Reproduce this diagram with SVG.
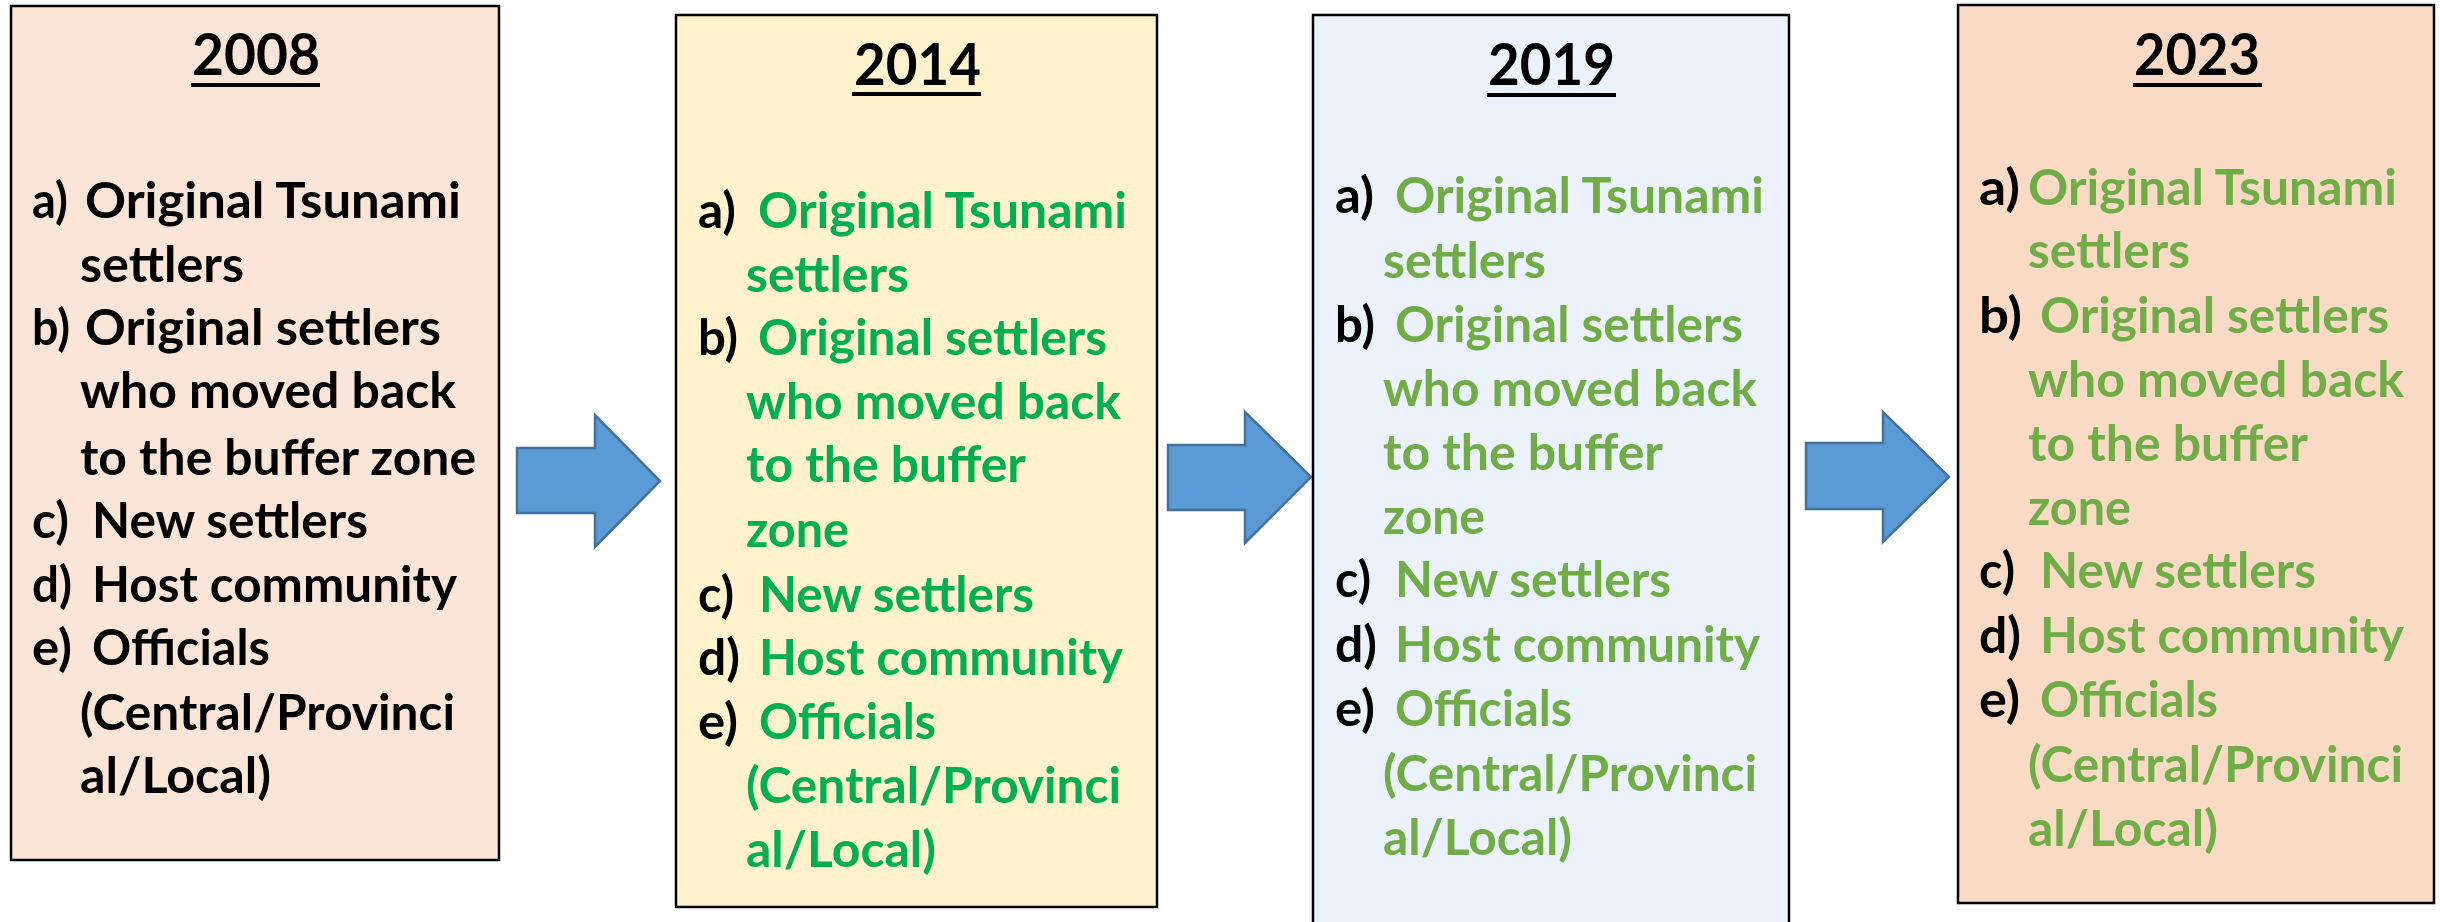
<svg xmlns="http://www.w3.org/2000/svg" width="2440" height="922" viewBox="0 0 2440 922">
<style>
text{font-family:Lato,"Liberation Sans",sans-serif;font-weight:700;font-size:50px}
.yr{font-size:58px;fill:#000}
.lb{fill:#000}
.k{fill:#000}
.g1{fill:#00B050}
.g2{fill:#70AD47}
.box{stroke:#000;stroke-width:2.5}
.ul{fill:#000}
.arrow{fill:#5B9BD5;stroke:#41719C;stroke-width:2.5;stroke-linejoin:miter}
</style>
<rect width="2440" height="922" fill="#fff"/>
<g id="connectors">
<path class="arrow" d="M517,448 H595 V415 L660,481 L595,547 V513 H517 Z"/>
<path class="arrow" d="M1168,445 H1245 V412 L1311,477 L1245,543 V510 H1168 Z"/>
<path class="arrow" d="M1806,443 H1883 V412 L1949,477 L1883,542 V509 H1806 Z"/>
</g>
<g id="node-2008">
<rect class="box" x="11" y="6" width="488" height="854" fill="#FBE5D6"/>
<text class="yr" x="192" y="75" textLength="128" lengthAdjust="spacingAndGlyphs">2008</text>
<rect class="ul" x="191" y="83" width="129" height="4"/>
<text class="lb" x="32" y="218" textLength="36" lengthAdjust="spacingAndGlyphs">a)</text>
<text class="k" x="85" y="218" textLength="376" lengthAdjust="spacingAndGlyphs">Original Tsunami</text>
<text class="k" x="80" y="282" textLength="164" lengthAdjust="spacingAndGlyphs">settlers</text>
<text class="lb" x="32" y="345" textLength="38" lengthAdjust="spacingAndGlyphs">b)</text>
<text class="k" x="85" y="345" textLength="356" lengthAdjust="spacingAndGlyphs">Original settlers</text>
<text class="k" x="80" y="408" textLength="376" lengthAdjust="spacingAndGlyphs">who moved back</text>
<text class="k" x="80" y="475" textLength="396" lengthAdjust="spacingAndGlyphs">to the buffer zone</text>
<text class="lb" x="32" y="538" textLength="37" lengthAdjust="spacingAndGlyphs">c)</text>
<text class="k" x="92" y="538" textLength="276" lengthAdjust="spacingAndGlyphs">New settlers</text>
<text class="lb" x="32" y="602" textLength="40" lengthAdjust="spacingAndGlyphs">d)</text>
<text class="k" x="92" y="602" textLength="365" lengthAdjust="spacingAndGlyphs">Host community</text>
<text class="lb" x="32" y="665" textLength="40" lengthAdjust="spacingAndGlyphs">e)</text>
<text class="k" x="92" y="665" textLength="178" lengthAdjust="spacingAndGlyphs">Officials</text>
<text class="k" x="80" y="730" textLength="375" lengthAdjust="spacingAndGlyphs">(Central/Provinci</text>
<text class="k" x="80" y="793" textLength="191" lengthAdjust="spacingAndGlyphs">al/Local)</text>
</g>
<g id="node-2014">
<rect class="box" x="676" y="15" width="481" height="892" fill="#FFF2CC"/>
<text class="yr" x="854" y="85" textLength="127" lengthAdjust="spacingAndGlyphs">2014</text>
<rect class="ul" x="852" y="92" width="129" height="4"/>
<text class="lb" x="698" y="228" textLength="38" lengthAdjust="spacingAndGlyphs">a)</text>
<text class="g1" x="758" y="228" textLength="369" lengthAdjust="spacingAndGlyphs">Original Tsunami</text>
<text class="g1" x="746" y="292" textLength="163" lengthAdjust="spacingAndGlyphs">settlers</text>
<text class="lb" x="698" y="355" textLength="40" lengthAdjust="spacingAndGlyphs">b)</text>
<text class="g1" x="758" y="355" textLength="349" lengthAdjust="spacingAndGlyphs">Original settlers</text>
<text class="g1" x="746" y="419" textLength="375" lengthAdjust="spacingAndGlyphs">who moved back</text>
<text class="g1" x="746" y="482" textLength="280" lengthAdjust="spacingAndGlyphs">to the buffer</text>
<text class="g1" x="746" y="547" textLength="103" lengthAdjust="spacingAndGlyphs">zone</text>
<text class="lb" x="698" y="612" textLength="36" lengthAdjust="spacingAndGlyphs">c)</text>
<text class="g1" x="759" y="612" textLength="275" lengthAdjust="spacingAndGlyphs">New settlers</text>
<text class="lb" x="698" y="675" textLength="42" lengthAdjust="spacingAndGlyphs">d)</text>
<text class="g1" x="759" y="675" textLength="364" lengthAdjust="spacingAndGlyphs">Host community</text>
<text class="lb" x="698" y="739" textLength="40" lengthAdjust="spacingAndGlyphs">e)</text>
<text class="g1" x="759" y="739" textLength="177" lengthAdjust="spacingAndGlyphs">Officials</text>
<text class="g1" x="746" y="803" textLength="375" lengthAdjust="spacingAndGlyphs">(Central/Provinci</text>
<text class="g1" x="746" y="867" textLength="190" lengthAdjust="spacingAndGlyphs">al/Local)</text>
</g>
<g id="node-2019">
<rect class="box" x="1313" y="15" width="476" height="915" fill="#EBF2FB"/>
<text class="yr" x="1488" y="85" textLength="127" lengthAdjust="spacingAndGlyphs">2019</text>
<rect class="ul" x="1487" y="93" width="129" height="4"/>
<text class="lb" x="1335" y="213" textLength="39" lengthAdjust="spacingAndGlyphs">a)</text>
<text class="g2" x="1395" y="213" textLength="369" lengthAdjust="spacingAndGlyphs">Original Tsunami</text>
<text class="g2" x="1383" y="278" textLength="163" lengthAdjust="spacingAndGlyphs">settlers</text>
<text class="lb" x="1335" y="342" textLength="40" lengthAdjust="spacingAndGlyphs">b)</text>
<text class="g2" x="1395" y="342" textLength="348" lengthAdjust="spacingAndGlyphs">Original settlers</text>
<text class="g2" x="1383" y="406" textLength="374" lengthAdjust="spacingAndGlyphs">who moved back</text>
<text class="g2" x="1383" y="470" textLength="280" lengthAdjust="spacingAndGlyphs">to the buffer</text>
<text class="g2" x="1383" y="534" textLength="102" lengthAdjust="spacingAndGlyphs">zone</text>
<text class="lb" x="1335" y="597" textLength="36" lengthAdjust="spacingAndGlyphs">c)</text>
<text class="g2" x="1395" y="597" textLength="276" lengthAdjust="spacingAndGlyphs">New settlers</text>
<text class="lb" x="1335" y="662" textLength="42" lengthAdjust="spacingAndGlyphs">d)</text>
<text class="g2" x="1395" y="662" textLength="365" lengthAdjust="spacingAndGlyphs">Host community</text>
<text class="lb" x="1335" y="726" textLength="40" lengthAdjust="spacingAndGlyphs">e)</text>
<text class="g2" x="1395" y="726" textLength="177" lengthAdjust="spacingAndGlyphs">Officials</text>
<text class="g2" x="1383" y="791" textLength="374" lengthAdjust="spacingAndGlyphs">(Central/Provinci</text>
<text class="g2" x="1383" y="855" textLength="189" lengthAdjust="spacingAndGlyphs">al/Local)</text>
</g>
<g id="node-2023">
<rect class="box" x="1958" y="5" width="476" height="898" fill="#F9DBC5"/>
<text class="yr" x="2134" y="75" textLength="126" lengthAdjust="spacingAndGlyphs">2023</text>
<rect class="ul" x="2133" y="83" width="129" height="4"/>
<text class="lb" x="1979" y="205" textLength="41" lengthAdjust="spacingAndGlyphs">a)</text>
<text class="g2" x="2028" y="205" textLength="369" lengthAdjust="spacingAndGlyphs">Original Tsunami</text>
<text class="g2" x="2028" y="268" textLength="162" lengthAdjust="spacingAndGlyphs">settlers</text>
<text class="lb" x="1979" y="333" textLength="43" lengthAdjust="spacingAndGlyphs">b)</text>
<text class="g2" x="2040" y="333" textLength="349" lengthAdjust="spacingAndGlyphs">Original settlers</text>
<text class="g2" x="2028" y="397" textLength="376" lengthAdjust="spacingAndGlyphs">who moved back</text>
<text class="g2" x="2028" y="461" textLength="280" lengthAdjust="spacingAndGlyphs">to the buffer</text>
<text class="g2" x="2028" y="525" textLength="103" lengthAdjust="spacingAndGlyphs">zone</text>
<text class="lb" x="1979" y="588" textLength="36" lengthAdjust="spacingAndGlyphs">c)</text>
<text class="g2" x="2040" y="588" textLength="276" lengthAdjust="spacingAndGlyphs">New settlers</text>
<text class="lb" x="1979" y="653" textLength="42" lengthAdjust="spacingAndGlyphs">d)</text>
<text class="g2" x="2040" y="653" textLength="364" lengthAdjust="spacingAndGlyphs">Host community</text>
<text class="lb" x="1979" y="717" textLength="41" lengthAdjust="spacingAndGlyphs">e)</text>
<text class="g2" x="2040" y="717" textLength="178" lengthAdjust="spacingAndGlyphs">Officials</text>
<text class="g2" x="2028" y="782" textLength="375" lengthAdjust="spacingAndGlyphs">(Central/Provinci</text>
<text class="g2" x="2028" y="846" textLength="190" lengthAdjust="spacingAndGlyphs">al/Local)</text>
</g>
</svg>
